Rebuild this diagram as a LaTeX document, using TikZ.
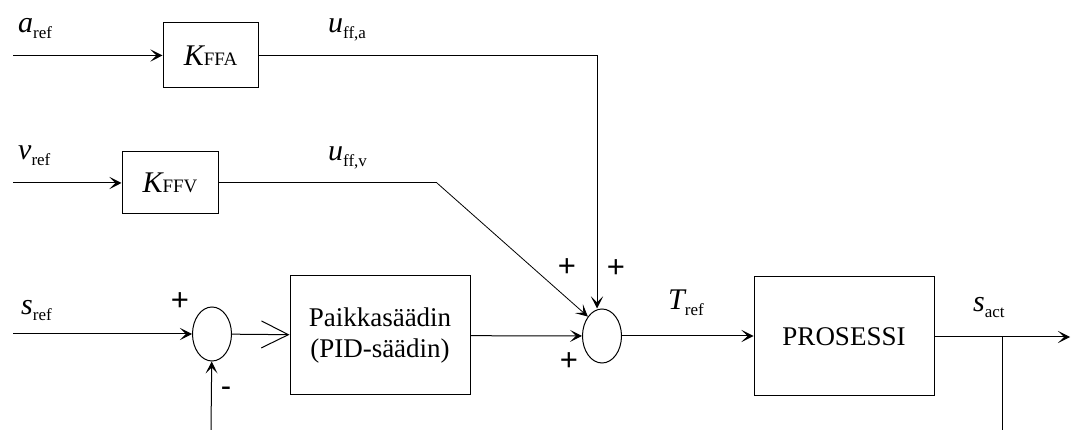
\documentclass[tikz,border=0pt]{standalone}
\usepackage{fontspec}
\setmainfont{Liberation Serif}
\newfontfamily\signfont{Liberation Sans}
\usetikzlibrary{arrows.meta,shapes.geometric}
\newcommand{\sgl}[2]{{\fontsize{30}{30}\selectfont\itshape #1}{\fontsize{17}{17}\selectfont\raisebox{-6pt}{#2}}}
\newcommand{\gain}[1]{{\fontsize{30}{30}\selectfont\itshape K}{\fontsize{19}{19}\selectfont #1}}
\tikzset{
  blk/.style={draw,rectangle,inner sep=0pt,line width=1pt,font=\fontsize{27}{31}\selectfont,align=center},
  sumnode/.style={draw,ellipse,inner sep=0pt,minimum width=39pt,minimum height=54pt,line width=1pt},
  sig/.style={-{Stealth[length=12pt,width=12pt,inset=6pt]},line width=1pt},
  bigsig/.style={-{Straight Barb[length=27pt,width=27pt,line width=1pt]},line width=1pt},
  lbl/.style={anchor=base west,inner sep=0pt},
  sgn/.style={inner sep=0pt,font=\signfont\fontsize{31}{31}\selectfont},
}
\begin{document}
\begin{tikzpicture}[x=1pt,y=-1pt]
  \useasboundingbox (0,0) rectangle (1077,430);

  % blocks
  \node[blk,minimum width=95pt,minimum height=65pt] (kffa) at (210.5,55.5) {\gain{FFA}};
  \node[blk,minimum width=96pt,minimum height=62pt] (kffv) at (170,183) {\gain{FFV}};
  \node[blk,minimum width=180pt,minimum height=119pt] (pid) at (380,335.5) {Paikkasäädin\\(PID-säädin)};
  \node[blk,minimum width=180pt,minimum height=119pt] (proc) at (844,336.5) {PROSESSI};
  \node[sumnode] (sum1) at (212,334) {};
  \node[sumnode] (sum2) at (602,336) {};

  % free ends
  \coordinate (ain) at (13,55.5);
  \coordinate (vin) at (13,183);
  \coordinate (sin) at (13,334);
  \coordinate (fbin) at (211,430);
  \coordinate (acorner) at (597,55.5);
  \coordinate (vcorner) at (437,183);
  \coordinate (tap) at (1002,337);
  \coordinate (tapend) at (1002,430);
  \coordinate (sout) at (1070,337);

  % connectors
  \draw[sig] (ain) -- (kffa);
  \draw[sig] (vin) -- (kffv);
  \draw[sig] (sin) -- (sum1);
  \draw[sig] (fbin) -- (sum1);
  \draw[bigsig] (sum1) -- (pid);
  \draw[sig] (pid) -- (sum2);
  \draw[sig] (kffa) -- (acorner) -- (acorner |- sum2.north);
  \draw[line width=1pt] (kffv) -- (vcorner);
  \draw[sig,line width=0.8pt] (vcorner) -- (sum2.north west);
  \draw[sig] (sum2) -- (proc.west |- sum2);
  \draw[sig] (proc.east |- tap) -- (sout);
  \draw[line width=1pt] (tap) -- (tapend);

  % labels
  \node[lbl] (la) at (18,33) {\sgl{a}{ref}};
  \node[lbl] (lv) at (18,160) {\sgl{v}{ref}};
  \node[lbl] (ls) at (21,315) {\sgl{s}{ref}};
  \node[lbl] (lua) at (328,33) {\sgl{u}{ff,a}};
  \node[lbl] (luv) at (328,161) {\sgl{u}{ff,v}};
  \node[lbl] (lt) at (668,310) {\sgl{T}{ref}};
  \node[lbl] (lsa) at (973,312) {\sgl{s}{act}};

  % signs
  \node[sgn] (p1) at (180,302) {+};
  \node[sgn] (m1) at (226,392) {-};
  \node[sgn] (p2) at (567,268) {+};
  \node[sgn] (p3) at (616,269) {+};
  \node[sgn] (p4) at (569,362) {+};
\end{tikzpicture}
\end{document}
